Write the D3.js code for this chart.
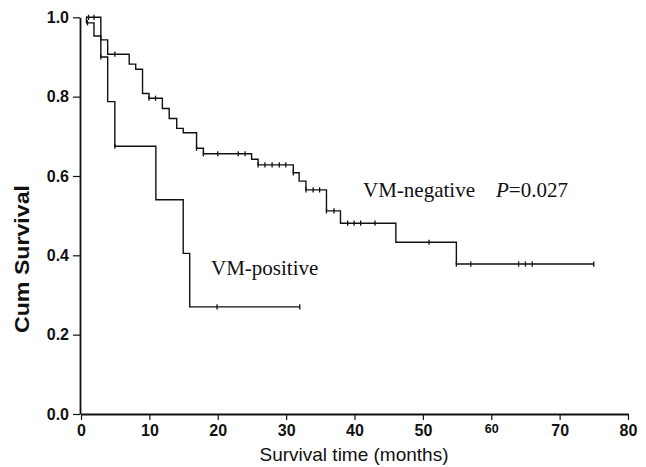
<!DOCTYPE html>
<html>
<head>
<meta charset="utf-8">
<script src="https://cdn.jsdelivr.net/npm/d3@7"></script>
<style>
  body { margin: 0; background: #fff; }
  .tick text { font-family: "Liberation Sans", Arial, sans-serif; font-weight: bold; font-size: 16px; fill: #111; }
  .note { font-family: "Liberation Serif", "Times New Roman", serif; font-size: 21px; fill: #111; }
</style>
</head>
<body>
<div id="chart"></div>
<script>
// x axis ticks
const xTicks = [0, 10, 20, 30, 40, 50, 60, 70, 80];
const yTicks = [0, 0.2, 0.4, 0.6, 0.8, 1.0];

// VM-negative: step times and survival after each step
const negTime = [0.73, 0.8, 1.9, 2.9, 3.9, 7.05, 8.0, 9.0, 9.95, 11.9, 12.9, 14.0, 14.95, 16.9, 17.9, 24.95, 25.9, 31.05, 31.9, 32.9, 35.9, 37.95, 46.05, 54.9, 75];
const negSurv = [1.0, 0.986, 0.953, 0.943, 0.907, 0.882, 0.869, 0.808, 0.796, 0.770, 0.745, 0.720, 0.709, 0.670, 0.656, 0.642, 0.628, 0.608, 0.587, 0.565, 0.512, 0.481, 0.433, 0.378, 0.378];
const negCensor = [0.95, 4.95, 9.95, 10.9, 16.9, 17.9, 20, 23, 24, 25.9, 26.9, 27.95, 29, 29.95, 31.05, 32.9, 33.95, 34.9, 35.9, 37, 39, 39.95, 40.9, 43, 50.9, 54.9, 57, 64, 65, 66, 75];

// VM-positive
const posTime = [0.73, 2.9, 3.9, 4.95, 10.95, 14.95, 15.9, 32];
const posSurv = [1.0, 0.9, 0.7875, 0.675, 0.54, 0.405, 0.27, 0.27];
const posCensor = [1.1, 1.9, 2.9, 4.95, 19.9, 32];

const width = 646, height = 467;

const svg = d3.select('#chart')
    .append('svg')
    .attr('width', width)
    .attr('height', height);

const x = d3.scaleLinear().domain([0, 80]).range([81, 628]);
const y = d3.scaleLinear().domain([0, 1]).range([414, 17.3]);

// axes
const xAxis = svg.append('g')
    .attr('transform', `translate(0, ${y(0)})`)
    .call(d3.axisBottom(x).tickValues(xTicks).tickSize(6).tickSizeOuter(0).tickPadding(5));

xAxis.selectAll('.tick text')
    .filter(d => d === 60)
    .style('font-size', '12.5px')
    .attr('dy', '0.6em');

const yAxis = svg.append('g')
    .attr('transform', `translate(${x(0) - 1}, 0)`)
    .call(d3.axisLeft(y).tickValues(yTicks).tickFormat(d3.format('.1f')).tickSize(7).tickSizeOuter(0).tickPadding(4));

svg.selectAll('.domain').attr('stroke', '#111').attr('stroke-width', 1.8);
svg.selectAll('.tick line').attr('stroke', '#111').attr('stroke-width', 1.2);

// axis titles
svg.append('text')
    .attr('x', 354)
    .attr('y', 461)
    .attr('text-anchor', 'middle')
    .style('font-family', '"Liberation Sans", Arial, sans-serif')
    .style('font-size', '19px')
    .attr('fill', '#111')
    .text('Survival time (months)');

svg.append('text')
    .attr('transform', 'translate(29, 259) rotate(-90)')
    .attr('text-anchor', 'middle')
    .style('font-family', '"Liberation Sans", Arial, sans-serif')
    .style('font-weight', 'bold')
    .style('font-size', '20px')
    .attr('fill', '#111')
    .attr('textLength', 148)
    .attr('lengthAdjust', 'spacingAndGlyphs')
    .text('Cum Survival');

// curves
const line = d3.line()
    .x(d => x(d[0]))
    .y(d => y(d[1]))
    .curve(d3.curveStepAfter);

function survAt(times, surv, t) {
    let s = surv[0];
    times.forEach((tt, i) => { if (tt <= t + 1e-9) s = surv[i]; });
    return s;
}

function drawCurve(times, surv, censor) {
    const pts = d3.zip(times, surv);
    svg.append('path')
        .datum(pts)
        .attr('d', line)
        .attr('fill', 'none')
        .attr('stroke', '#111')
        .attr('stroke-width', 1.4);

    svg.append('g')
        .selectAll('line')
        .data(censor)
        .join('line')
        .attr('x1', d => x(d))
        .attr('x2', d => x(d))
        .attr('y1', d => y(survAt(times, surv, d)) - 2.6)
        .attr('y2', d => y(survAt(times, surv, d)) + 2.6)
        .attr('stroke', '#111')
        .attr('stroke-width', 1.3);
}

drawCurve(negTime, negSurv, negCensor);
drawCurve(posTime, posSurv, posCensor);

// labels
svg.append('text')
    .attr('class', 'note')
    .attr('x', 363)
    .attr('y', 197)
    .text('VM-negative');

const p = svg.append('text')
    .attr('class', 'note')
    .attr('x', 496)
    .attr('y', 197);
p.append('tspan').style('font-style', 'italic').text('P');
p.append('tspan').text('=0.027');

svg.append('text')
    .attr('class', 'note')
    .attr('x', 211)
    .attr('y', 275)
    .text('VM-positive');
</script>
</body>
</html>
